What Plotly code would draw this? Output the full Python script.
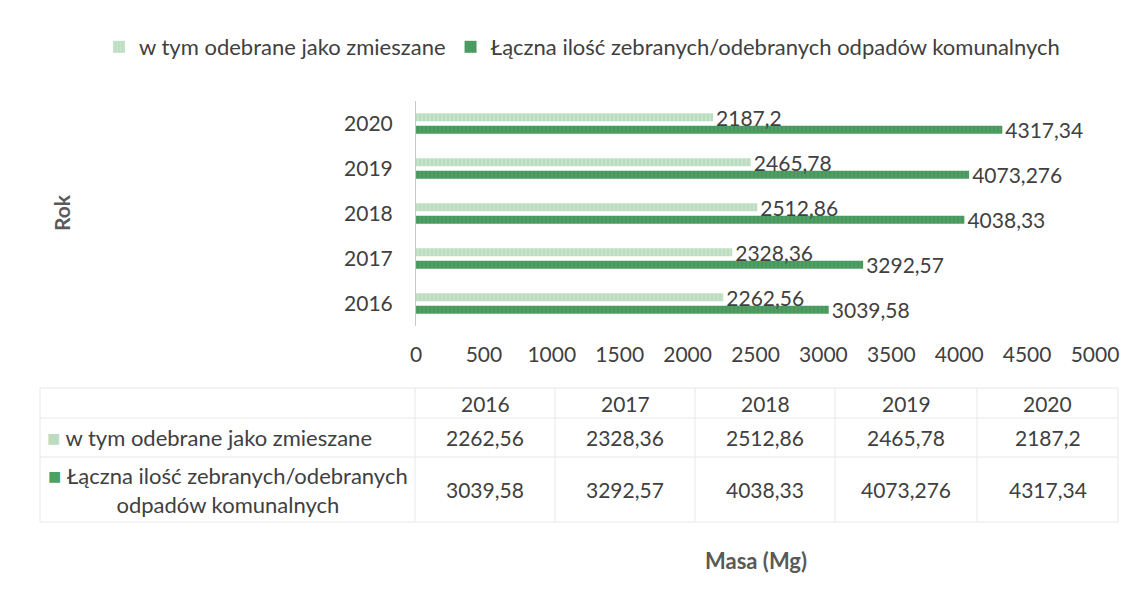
import plotly.graph_objects as go

years = ["2016", "2017", "2018", "2019", "2020"]
mixed = [2262.56, 2328.36, 2512.86, 2465.78, 2187.2]
total = [3039.58, 3292.57, 4038.33, 4073.276, 4317.34]
name_mixed = "w tym odebrane jako zmieszane"
name_total = "Łączna ilość zebranych/odebranych odpadów komunalnych"
name_total_table = "Łączna ilość zebranych/odebranych<br>odpadów komunalnych"
x_ticks = [0, 500, 1000, 1500, 2000, 2500, 3000, 3500, 4000, 4500, 5000]

# the page body has an 8px margin, so the figure is shifted by (8, 8) in the window
OFF = 8
W, H = 1133 - OFF, 598 - OFF
FONT = "Lato"
TXT = "#404040"
LIGHT_BG, LIGHT_FG = "#bcdcc0", "#dcefdd"
DARK_BG, DARK_FG = "#4f9f64", "#3a8a50"


def fmt(v):
    s = f"{v}"
    if "." in s:
        s = s.rstrip("0").rstrip(".")
    return s.replace(".", ",")


def px(x):
    return (x - OFF) / W


def py(y):
    return 1 - (y - OFF) / H


def note(text, x, y, size=21, color=TXT, **kw):
    return dict(text=text, x=px(x), y=py(y), xref="paper", yref="paper",
                xanchor="center", yanchor="middle", showarrow=False,
                font=dict(size=size, color=color, family=FONT), **kw)


fig = go.Figure()
fig.add_trace(go.Bar(
    y=years, x=total, orientation="h", name=name_total,
    text=[fmt(v) for v in total], textposition="outside", constraintext="none",
    textfont=dict(size=21, color=TXT, family=FONT), cliponaxis=False,
    marker=dict(color=DARK_BG, line=dict(width=0),
                pattern=dict(shape="|", fgcolor=DARK_FG, bgcolor=DARK_BG, size=4, solidity=0.35)),
    legendrank=2,
))
fig.add_trace(go.Bar(
    y=years, x=mixed, orientation="h", name=name_mixed,
    text=[fmt(v) for v in mixed], textposition="outside", constraintext="none",
    textfont=dict(size=21, color=TXT, family=FONT), cliponaxis=False,
    marker=dict(color=LIGHT_BG, line=dict(width=0),
                pattern=dict(shape="|", fgcolor=LIGHT_FG, bgcolor=LIGHT_BG, size=4, solidity=0.35)),
    legendrank=1,
))

# ---- data table drawn with shapes + annotations ----
col_edges = [40, 415, 555, 695, 835, 977, 1118]
row_edges = [388, 418, 457, 522]
LINE = "#e8e8e8"
shapes = []
for y in row_edges:
    shapes.append(dict(type="line", xref="paper", yref="paper", x0=px(col_edges[0]), x1=px(col_edges[-1]),
                       y0=py(y), y1=py(y), line=dict(color=LINE, width=1)))
for x in col_edges:
    shapes.append(dict(type="line", xref="paper", yref="paper", x0=px(x), x1=px(x),
                       y0=py(row_edges[0]), y1=py(row_edges[-1]), line=dict(color=LINE, width=1)))

annotations = []
row_mid = [(row_edges[i] + row_edges[i + 1]) / 2 for i in range(3)]
for j, yr in enumerate(years):
    cx = (col_edges[j + 1] + col_edges[j + 2]) / 2
    annotations.append(note(yr, cx, row_mid[0]))
    annotations.append(note(fmt(mixed[j]), cx, row_mid[1]))
    annotations.append(note(fmt(total[j]), cx, row_mid[2]))

first_cx = (col_edges[0] + col_edges[1]) / 2
annotations.append(note(f"<span style='color:{LIGHT_BG}'>■</span> " + name_mixed,
                        first_cx - 18, row_mid[1], size=22))
annotations.append(note(f"<span style='color:{DARK_BG}'>■</span> " + name_total_table,
                        first_cx, row_mid[2], size=22, align="center"))

annotations += [
    note("<b>Masa (Mg)</b>", 756, 560, size=22, color="#595959"),
    note("<b>Rok</b>", 62, 213, size=21, color="#595959", textangle=-90),
]

fig.update_layout(
    width=W, height=H,
    margin=dict(l=0, r=0, t=0, b=0, autoexpand=False),
    paper_bgcolor="white", plot_bgcolor="white",
    font=dict(family=FONT, color=TXT, size=21),
    barmode="group", bargap=0.44, bargroupgap=0.36,
    showlegend=True,
    legend=dict(orientation="h", x=px(582), xanchor="center", y=py(47), yanchor="middle",
                font=dict(size=22, color=TXT, family=FONT), itemwidth=30,
                traceorder="normal"),
    xaxis=dict(domain=[px(416), px(1095)], range=[0, 5000], tickvals=x_ticks, automargin=False,
               showgrid=False, zeroline=False, showline=False, ticks="",
               tickfont=dict(size=21, color=TXT), ticklabelstandoff=14),
    yaxis=dict(domain=[py(326), py(101)], categoryorder="array", categoryarray=years, automargin=False,
               showgrid=False, showline=True, linecolor="#c8c8c8", linewidth=1,
               ticks="", tickfont=dict(size=21, color=TXT), ticklabelstandoff=18),
    shapes=shapes,
    annotations=annotations,
)

fig.write_html("out.html")
